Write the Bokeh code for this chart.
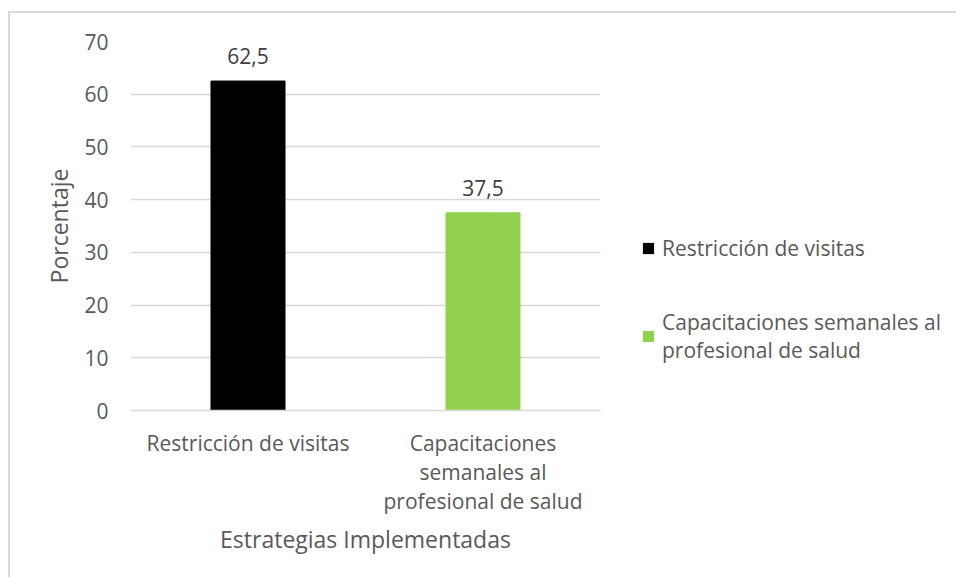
from bokeh.plotting import figure
from bokeh.layouts import row
from bokeh.models import ColumnDataSource, FactorRange, Range1d, Legend, LegendItem, LabelSet
from bokeh.core.properties import value
from bokeh.embed import file_html
from bokeh.resources import INLINE

categories = ["Restricción de visitas", "Capacitaciones\nsemanales al\nprofesional de salud"]
legend_labels = ["Restricción de visitas", "Capacitaciones semanales al\nprofesional de salud"]
values = [62.5, 37.5]
value_labels = ["62,5", "37,5"]
colors = ["#000000", "#92D050"]
y_ticks = [0, 10, 20, 30, 40, 50, 60, 70]

FONT = "Open Sans"
TXT = "#595959"
FS = "21px"

src = ColumnDataSource(dict(cat=categories, val=values, lab=value_labels, col=colors, leg=legend_labels))

# main chart
p = figure(width=595, height=564, x_range=FactorRange(*categories), y_range=Range1d(0, 70),
           output_backend="svg", toolbar_location=None,
           min_border_left=120, min_border_right=5, min_border_top=28, min_border_bottom=167)
p.outline_line_color = None
p.background_fill_color = "white"
p.border_fill_color = "white"

r = p.vbar(x="cat", top="val", width=0.315, color="col", source=src)

labels = LabelSet(x="cat", y="val", text="lab", source=src, text_align="center",
                  text_baseline="bottom", y_offset=17, text_color="#404040",
                  text_font=value(FONT), text_font_size=value(FS))
p.add_layout(labels)

p.yaxis.ticker = y_ticks
p.yaxis.axis_line_color = None
p.yaxis.major_tick_line_color = None
p.yaxis.minor_tick_line_color = None
p.yaxis.major_label_text_font = FONT
p.yaxis.major_label_text_font_size = FS
p.yaxis.major_label_text_color = TXT
p.yaxis.major_label_standoff = 16
p.yaxis.axis_label = "Porcentaje"
p.yaxis.axis_label_text_font = FONT
p.yaxis.axis_label_text_font_size = "23px"
p.yaxis.axis_label_text_font_style = "normal"
p.yaxis.axis_label_text_color = TXT
p.yaxis.axis_label_standoff = 6

p.xaxis.axis_line_color = "#D9D9D9"
p.xaxis.axis_line_width = 1.5
p.xaxis.major_tick_line_color = None
p.xaxis.minor_tick_line_color = None
p.xaxis.major_label_text_font = FONT
p.xaxis.major_label_text_font_size = FS
p.xaxis.major_label_text_line_height = 1.05
p.xaxis.major_label_text_color = TXT
p.xaxis.major_label_standoff = 12
p.xaxis.axis_label = "Estrategias Implementadas"
p.xaxis.axis_label_text_font = FONT
p.xaxis.axis_label_text_font_size = "23px"
p.xaxis.axis_label_text_font_style = "normal"
p.xaxis.axis_label_text_color = TXT
p.xaxis.axis_label_standoff = 5

p.xgrid.grid_line_color = None
p.ygrid.grid_line_color = "#D9D9D9"
p.ygrid.grid_line_width = 1.5

# legend panel (its own tiny zero-height renderer kept outside the visible y range)
q = figure(width=351, height=564, x_range=FactorRange(*categories), y_range=Range1d(1000, 2000),
           output_backend="svg", toolbar_location=None, x_axis_type=None, y_axis_type=None,
           min_border=0)
q.outline_line_color = None
q.grid.grid_line_color = None
q.background_fill_color = "white"
q.border_fill_color = "white"
rq = q.vbar(x="cat", top="val", bottom="val", width=0.001, fill_color="col", line_alpha=0, source=src)

items = [LegendItem(label=legend_labels[i], renderers=[rq], index=i) for i in range(2)]
legend = Legend(items=items, location=(36, 46), orientation="vertical",
                label_text_font=FONT, label_text_font_size=FS, label_text_color=TXT,
                label_text_line_height=1.43,
                glyph_width=14, glyph_height=14, label_standoff=7, spacing=46,
                border_line_color=None, background_fill_alpha=0, padding=0, margin=0)
q.add_layout(legend, "center")

layout = row(p, q)
layout.styles = {"border-top": "2px solid #D9D9D9", "border-left": "2px solid #D9D9D9",
                 "margin-left": "8px", "margin-top": "11px"}

open("out.html", "w").write(file_html(layout, INLINE))
